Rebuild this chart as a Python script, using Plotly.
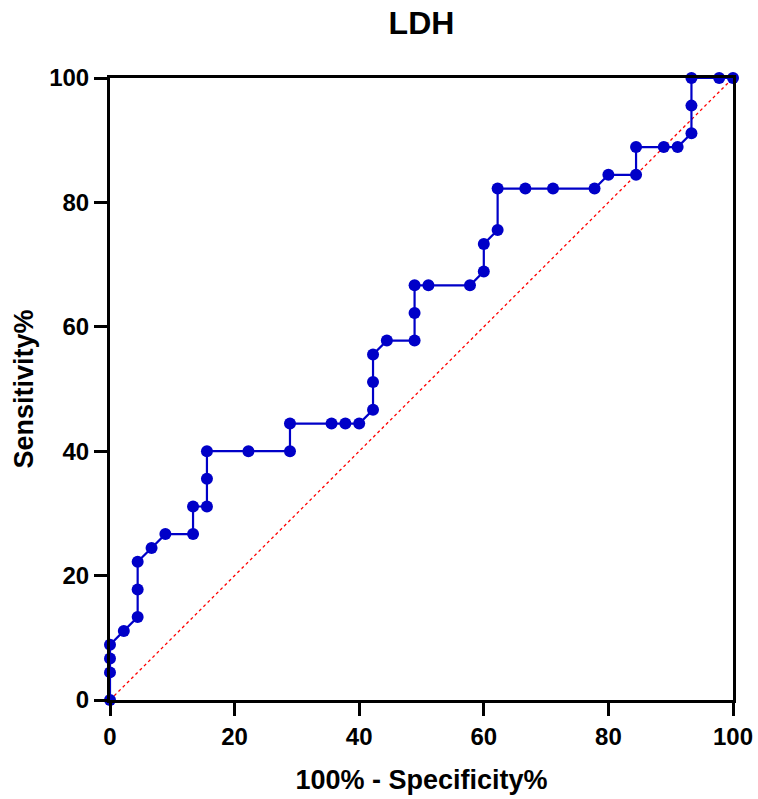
import plotly.graph_objects as go

# ROC curve points (100% - Specificity%, Sensitivity%)
fpr = [0, 0, 0, 0, 2.22, 4.44, 4.44, 4.44, 6.67, 8.89, 13.33, 13.33, 15.56, 15.56, 15.56,
       22.22, 28.89, 28.89, 35.56, 37.78, 40.0, 42.22, 42.22, 42.22, 44.44, 48.89, 48.89,
       48.89, 51.11, 57.78, 60.0, 60.0, 62.22, 62.22, 66.67, 71.11, 77.78, 80.0, 84.44,
       84.44, 88.89, 91.11, 93.33, 93.33, 93.33, 97.78, 100]
tpr = [0, 4.44, 6.67, 8.89, 11.11, 13.33, 17.78, 22.22, 24.44, 26.67, 26.67, 31.11, 31.11,
       35.56, 40.0, 40.0, 40.0, 44.44, 44.44, 44.44, 44.44, 46.67, 51.11, 55.56, 57.78,
       57.78, 62.22, 66.67, 66.67, 66.67, 68.89, 73.33, 75.56, 82.22, 82.22, 82.22, 82.22,
       84.44, 84.44, 88.89, 88.89, 88.89, 91.11, 95.56, 100, 100, 100]
ref_x = [0, 100]
ref_y = [0, 100]
ticks = [0, 20, 40, 60, 80, 100]

font_family = "Liberation Sans, Arial, sans-serif"
blue = "rgb(0,0,200)"

W, H = 758, 799

fig = go.Figure()
fig.add_trace(go.Scatter(x=ref_x, y=ref_y, mode="lines",
                         line=dict(color="red", width=1.3, dash="dot"),
                         hoverinfo="skip", showlegend=False))
fig.add_trace(go.Scatter(x=fpr, y=tpr, mode="lines+markers",
                         line=dict(color=blue, width=2.2),
                         marker=dict(color=blue, size=12),
                         showlegend=False, cliponaxis=False))

axis_common = dict(
    range=[0, 100], tickvals=ticks, ticktext=[str(t) for t in ticks],
    showgrid=False, zeroline=False, showline=True, linecolor="black",
    linewidth=3, mirror=True, ticks="outside", ticklen=13, tickwidth=3,
    tickcolor="black", automargin=False, ticklabeloverflow="allow",
    tickfont=dict(family=font_family, size=24, color="black", weight="bold"),
)

fig.update_layout(
    width=W, height=H,
    margin=dict(l=110, r=25, t=78, b=99),
    paper_bgcolor="white", plot_bgcolor="white",
    title=dict(text="<b>LDH</b>", x=(110 + 733) / 2 / W, xanchor="center",
               y=1 - 23 / H, yanchor="middle",
               font=dict(family=font_family, size=32, color="black")),
    xaxis=dict(**axis_common,
               title=dict(text="<b>100% - Specificity%</b>", standoff=22,
                          font=dict(family=font_family, size=27, color="black"))),
    yaxis=dict(**axis_common,
               title=dict(text="<b>Sensitivity%</b>", standoff=8,
                          font=dict(family=font_family, size=27, color="black"))),
)

fig.write_html(
    "out.html",
    config={"displayModeBar": False},
    post_script="document.body.style.margin='0';document.body.style.overflow='hidden';",
)
